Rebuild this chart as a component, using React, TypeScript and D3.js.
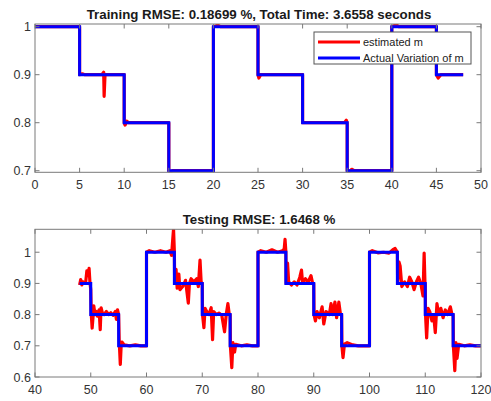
import React from "react";
import * as d3 from "d3";

// training window (top panel)
const trainStepX = [0, 5, 10, 15, 20, 25, 30, 35, 40, 45, 48];
const trainStepY = [1, 0.9, 0.8, 0.7, 1, 0.9, 0.8, 0.7, 1, 0.9, 0.9];
const trainEstimated: [number, number][] = [
  [0, 1], [5, 1], [5, 0.9], [5.3, 0.902], [5.6, 0.9], [7.5, 0.9], [7.7, 0.905], [7.75, 0.855], [7.85, 0.9],
  [10, 0.9], [10, 0.8], [10.1, 0.795], [10.3, 0.803], [10.5, 0.8], [15, 0.8], [15, 0.7], [15.2, 0.697],
  [15.4, 0.7], [20, 0.7], [20, 1], [20.5, 1.003], [20.8, 1.0], [23, 1.0], [25, 1], [25, 0.9],
  [25.1, 0.893], [25.3, 0.9], [30, 0.9], [30, 0.8], [34.7, 0.8], [34.9, 0.805], [35, 0.8], [35, 0.7],
  [35.2, 0.697], [35.5, 0.703], [35.8, 0.7], [40, 0.7], [40, 1], [40.5, 1.004], [40.8, 1.0], [45, 1],
  [45, 0.9], [45.2, 0.893], [45.5, 0.9], [48, 0.9],
];

// testing window (bottom panel)
const testStepX = [48, 50, 55, 60, 65, 70, 75, 80, 85, 90, 95, 100, 105, 110, 115, 120];
const testStepY = [0.9, 0.8, 0.7, 1, 0.9, 0.8, 0.7, 1, 0.9, 0.8, 0.7, 1, 0.9, 0.8, 0.7, 0.7];
const testEstimated: [number, number][] = [
  [48, 0.895], [48.2, 0.912], [48.4, 0.895], [48.6, 0.905], [48.8, 0.9], [49.1, 0.905], [49.3, 0.94],
  [49.5, 0.925], [49.7, 0.948], [49.85, 0.905], [50, 0.88],
  [50.1, 0.8], [50.25, 0.757], [50.4, 0.79], [50.55, 0.828], [50.75, 0.8], [51, 0.81], [51.2, 0.795],
  [51.5, 0.815], [51.7, 0.752], [51.85, 0.822], [52.1, 0.805], [52.4, 0.8], [52.8, 0.81], [53.2, 0.8],
  [53.6, 0.806], [54, 0.798], [54.4, 0.81], [54.6, 0.785], [54.8, 0.815], [55, 0.8],
  [55.1, 0.72], [55.3, 0.64], [55.45, 0.7], [55.6, 0.712], [56, 0.703], [57, 0.7], [58, 0.703], [59, 0.7], [60, 0.7],
  [60, 1.0], [60.5, 1.005], [61.5, 1.0], [62.5, 1.005], [63.5, 1.0], [64.2, 1.005], [64.5, 0.99],
  [64.7, 1.04], [64.85, 1.074], [65, 1.0],
  [65.05, 0.9], [65.3, 0.945], [65.5, 0.885], [65.8, 0.93], [66, 0.88], [66.5, 0.89], [67, 0.91],
  [67.5, 0.837], [67.7, 0.9], [68, 0.915], [68.5, 0.905], [69, 0.915], [69.3, 0.89], [69.6, 0.975],
  [69.8, 0.905], [70, 0.9],
  [70.05, 0.8], [70.3, 0.758], [70.5, 0.82], [70.8, 0.81], [71.2, 0.8], [71.6, 0.822], [71.85, 0.72],
  [72.05, 0.81], [72.5, 0.8], [73, 0.805], [73.5, 0.798], [74, 0.745], [74.3, 0.8], [74.6, 0.835],
  [74.85, 0.8], [75, 0.8],
  [75.05, 0.7], [75.3, 0.63], [75.5, 0.71], [75.8, 0.68], [76, 0.705], [77, 0.7], [78, 0.703], [79, 0.7], [80, 0.7],
  [80, 1.0], [80.5, 1.005], [81.5, 1.0], [82.5, 1.008], [83.5, 1.0], [84.4, 1.005], [84.7, 1.01],
  [84.85, 1.041], [85, 1.0],
  [85.05, 0.9], [85.3, 0.965], [85.5, 0.905], [86, 0.895], [86.5, 0.905], [87, 0.895], [87.5, 0.92],
  [87.8, 0.943], [88, 0.9], [88.5, 0.915], [89, 0.905], [89.5, 0.925], [89.8, 0.9], [90, 0.9],
  [90.05, 0.8], [90.3, 0.78], [90.6, 0.81], [91, 0.79], [91.5, 0.825], [91.8, 0.77], [92.2, 0.81],
  [92.8, 0.8], [93.1, 0.835], [93.4, 0.8], [93.8, 0.84], [94.1, 0.79], [94.5, 0.84], [94.8, 0.8], [95, 0.8],
  [95.05, 0.7], [95.25, 0.662], [95.5, 0.705], [96, 0.71], [97, 0.703], [98, 0.7], [99, 0.7], [100, 0.7],
  [100, 1.0], [100.5, 1.005], [101.5, 0.998], [102.5, 1.0], [103.5, 0.997], [104.2, 1.008],
  [104.6, 1.012], [105, 1.0],
  [105.05, 0.9], [105.3, 0.968], [105.5, 0.955], [105.8, 0.89], [106.3, 0.905], [106.8, 0.89],
  [107.2, 0.92], [107.6, 0.905], [108, 0.88], [108.4, 0.905], [108.8, 0.92], [109.2, 0.9],
  [109.6, 0.86], [109.8, 0.997], [109.95, 0.9], [110, 0.9],
  [110.05, 0.8], [110.25, 0.725], [110.5, 0.82], [110.8, 0.81], [111.2, 0.78], [111.5, 0.8],
  [111.8, 0.742], [112.1, 0.835], [112.4, 0.8], [112.8, 0.82], [113.2, 0.79], [113.6, 0.815],
  [114, 0.8], [114.5, 0.825], [114.8, 0.8], [115, 0.8],
  [115.05, 0.7], [115.3, 0.62], [115.5, 0.71], [115.7, 0.66], [116, 0.705], [117, 0.7], [118, 0.703],
  [119, 0.7], [120, 0.7],
];

const trainXTicks = [0, 5, 10, 15, 20, 25, 30, 35, 40, 45, 50];
const trainYTicks = [0.7, 0.8, 0.9, 1];
const testXTicks = [40, 50, 60, 70, 80, 90, 100, 110, 120];
const testYTicks = [0.6, 0.7, 0.8, 0.9, 1];
const tickFmt = (v: number) => String(+v.toFixed(2));

const legendLabels = ["estimated m", "Actual Variation of m"];
const trainTitle = "Training RMSE: 0.18699 %, Total Time: 3.6558 seconds";
const testTitle = "Testing RMSE: 1.6468 %";

const FONT = "'Liberation Sans', Arial, Helvetica, sans-serif";
const AXIS = "#7a7a7a";
const LABEL = "#333";

type PanelProps = {
  id: string;
  top: number;
  bottom: number;
  xDomain: [number, number];
  yDomain: [number, number];
  xTicks: number[];
  yTicks: number[];
  stepX: number[];
  stepY: number[];
  est: [number, number][];
  title: string;
  legend?: boolean;
};

function Panel(p: PanelProps) {
  const left = 35;
  const right = 481;
  const x = d3.scaleLinear().domain(p.xDomain).range([left, right]);
  const y = d3.scaleLinear().domain(p.yDomain).range([p.bottom, p.top]);
  const estLine = d3
    .line<[number, number]>()
    .x((d) => x(d[0]))
    .y((d) => y(d[1]));
  const stepLine = d3
    .line<number>()
    .curve(d3.curveStepAfter)
    .x((_, i) => x(p.stepX[i]))
    .y((d) => y(d));
  const tl = 4.5;
  return (
    <g>
      <defs>
        <clipPath id={p.id}>
          <rect x={left} y={p.top} width={right - left} height={p.bottom - p.top} />
        </clipPath>
      </defs>
      <rect x={left} y={p.top} width={right - left} height={p.bottom - p.top} fill="#fff" />
      <g clipPath={`url(#${p.id})`}>
        <path d={estLine(p.est) || ""} fill="none" stroke="#ff0000" strokeWidth={3.2} strokeLinejoin="round" />
        <path d={stepLine(p.stepY) || ""} fill="none" stroke="#0000ff" strokeWidth={3} />
      </g>
      <rect x={left} y={p.top} width={right - left} height={p.bottom - p.top} fill="none" stroke={AXIS} strokeWidth={1} />
      {p.xTicks.map((t) => (
        <g key={"x" + t}>
          <line x1={x(t)} x2={x(t)} y1={p.bottom} y2={p.bottom - tl} stroke={AXIS} />
          <line x1={x(t)} x2={x(t)} y1={p.top} y2={p.top + tl} stroke={AXIS} />
          <text x={x(t)} y={p.bottom + 17} textAnchor="middle" fontSize={12.5} fill={LABEL} fontFamily={FONT}>
            {tickFmt(t)}
          </text>
        </g>
      ))}
      {p.yTicks.map((t) => (
        <g key={"y" + t}>
          <line x1={left} x2={left + tl} y1={y(t)} y2={y(t)} stroke={AXIS} />
          <line x1={right} x2={right - tl} y1={y(t)} y2={y(t)} stroke={AXIS} />
          <text x={31} y={y(t) + 4.5} textAnchor="end" fontSize={12.5} fill={LABEL} fontFamily={FONT}>
            {tickFmt(t)}
          </text>
        </g>
      ))}
      <text x={(left + right) / 2 + 1} y={p.top - 5} textAnchor="middle" fontSize={13.3} fontWeight="bold" fill="#1a1a1a" fontFamily={FONT}>
        {p.title}
      </text>
      {p.legend && (
        <g transform="translate(314,32)">
          <rect x={0} y={0} width={157} height={32} fill="#fff" stroke="#555" strokeWidth={1} />
          {legendLabels.map((lab, i) => (
            <g key={lab} transform={`translate(0,${10 + i * 16})`}>
              <line x1={4} x2={46} y1={0} y2={0} stroke={i === 0 ? "#ff0000" : "#0000ff"} strokeWidth={3} />
              <text x={49} y={4} fontSize={11} fill="#222" fontFamily={FONT}>
                {lab}
              </text>
            </g>
          ))}
        </g>
      )}
    </g>
  );
}

export default function App() {
  return (
    <svg
      width={491}
      height={401}
      style={{ position: "absolute", left: 0, top: 0, background: "#fff" }}
    >
      <Panel
        id="clipTrain"
        top={24}
        bottom={172.3}
        xDomain={[0, 50]}
        yDomain={[0.6967, 1.0056]}
        xTicks={trainXTicks}
        yTicks={trainYTicks}
        stepX={trainStepX}
        stepY={trainStepY}
        est={trainEstimated}
        title={trainTitle}
        legend
      />
      <Panel
        id="clipTest"
        top={229.3}
        bottom={377}
        xDomain={[40, 120]}
        yDomain={[0.6, 1.0735]}
        xTicks={testXTicks}
        yTicks={testYTicks}
        stepX={testStepX}
        stepY={testStepY}
        est={testEstimated}
        title={testTitle}
      />
    </svg>
  );
}
